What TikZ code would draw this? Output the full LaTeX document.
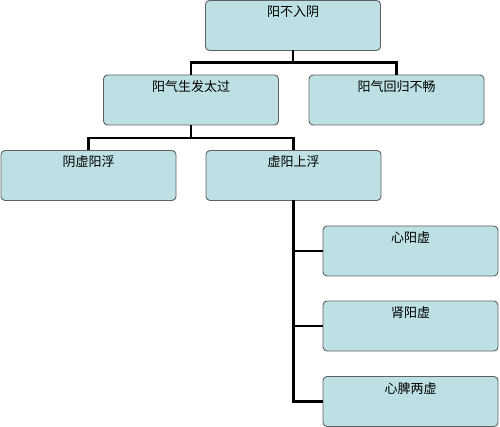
\documentclass[tikz,border=0pt]{standalone}
\usepackage{fontspec}
\setmainfont{Noto Sans CJK SC}
\usepackage{tikz}
\usetikzlibrary{positioning,calc}
\definecolor{boxFill}{RGB}{189,224,228}
\definecolor{boxLine}{RGB}{96,96,96}

\begin{document}
\begin{tikzpicture}[x=1pt, y=1pt, semithick,
			box/.style={draw=boxLine, line width=0.9pt, fill=boxFill, rounded corners=4pt, outer sep=0,
				minimum width=175pt, minimum height=50pt, inner ysep=4pt, text height=12.5pt, text depth=29.5pt,
				font=\fontsize{13}{15}\selectfont},
			link/.style={draw=black, line width=2.9pt}]
			\useasboundingbox (0,0) rectangle (500,-427);
			\node[box] (t1) at (293, -25.5) {阳不入阴};
			\node[box] (t2) at (191, -100) {阳气生发太过};
			\node[box] (t3) at (396.5, -100) {阳气回归不畅};
			\node[box] (t4) at (88.5, -175.5) {阴虚阳浮};
			\node[box] (t5) at (293.5, -175.5) {虚阳上浮};
			\node[box] (t6) at (410.5, -251) {心阳虚};
			\node[box] (t7) at (410.5, -326) {肾阳虚};
			\node[box] (t8) at (410.5, -401.5) {心脾两虚};
			\path[link] (t1.south) -- +(0,-12) -| (t2.north);
			\path[link] (t1.south) -- +(0,-12) -| (t3.north);
			\path[link] (t2.south) -- +(0,-13) -| (t4.north);
			\path[link] (t2.south) -- +(0,-13) -| (t5.north);
			\path[link] (t5.south) |- (t6.west);
			\path[link] (t5.south) |- (t7.west);
			\path[link] (t5.south) |- (t8.west);
		\end{tikzpicture}
\end{document}
